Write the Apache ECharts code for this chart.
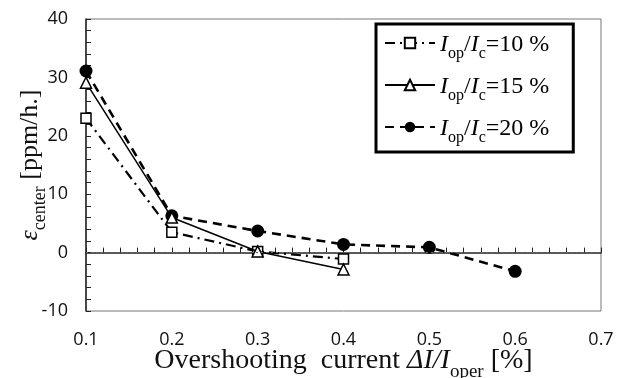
<!DOCTYPE html>
<html>
<head>
<meta charset="utf-8">
<script src="https://cdn.jsdelivr.net/npm/echarts@6/dist/echarts.min.js"></script>
<style>
  html, body { margin: 0; padding: 0; background: #fff; }
  #chart { width: 622px; height: 378px; }
</style>
</head>
<body>
<div id="chart"></div>
<script>
// Overshooting current ΔI/I_oper [%]
const overshoot10 = [0.1, 0.2, 0.3, 0.4];
const overshoot15 = [0.1, 0.2, 0.3, 0.4];
const overshoot20 = [0.1, 0.2, 0.3, 0.4, 0.5, 0.6];

// ε_center [ppm/h.] for each operating ratio
const eps10 = [23.0, 3.5, 0.2, -1.1];
const eps15 = [29.1, 6.0, 0.2, -2.9];
const eps20 = [31.1, 6.3, 3.7, 1.4, 0.9, -3.2];

const seriesNames = ['Iop/Ic=10 %', 'Iop/Ic=15 %', 'Iop/Ic=20 %'];
const legendPercents = ['10', '15', '20'];

const pairs = (xs, ys) => xs.map((x, i) => [x, ys[i]]);

const serif = '"Liberation Serif", "DejaVu Serif", serif';
const sans = '"Open Sans", "DejaVu Sans", sans-serif';

const chart = echarts.init(document.getElementById('chart'));

chart.setOption({
  animation: false,
  backgroundColor: '#fff',
  grid: {
    left: 86, right: 21, top: 19, bottom: 67,
    outerBoundsMode: 'none',
    containLabel: false,
    show: true, borderColor: '#777', borderWidth: 1
  },
  legend: {
    orient: 'vertical',
    left: 376, top: 24,
    padding: [9, 24, 6, 8],
    itemGap: 13,
    itemWidth: 50,
    itemHeight: 13,
    borderColor: '#000',
    borderWidth: 3,
    backgroundColor: '#fff',
    data: seriesNames,
    formatter: name => {
      const pct = legendPercents[seriesNames.indexOf(name)];
      return '{i|I}{s|op}{t|/}{i|I}{s|c}{t|=' + pct + ' %}';
    },
    textStyle: {
      fontFamily: serif, fontSize: 24, color: '#000',
      rich: {
        i: { fontFamily: serif, fontSize: 24, fontStyle: 'italic', color: '#000', lineHeight: 28, verticalAlign: 'bottom' },
        t: { fontFamily: serif, fontSize: 24, color: '#000', lineHeight: 28, verticalAlign: 'bottom' },
        s: { fontFamily: serif, fontSize: 16, color: '#000', lineHeight: 28, verticalAlign: 'bottom', padding: [0, 0, -5, 0] }
      }
    }
  },
  xAxis: {
    type: 'value',
    min: 0.1, max: 0.7, interval: 0.1,
    axisLine: { lineStyle: { color: '#222', width: 1.5 } },
    axisTick: { inside: true, length: 5, lineStyle: { color: '#222' } },
    minorTick: { show: true, splitNumber: 5, length: 5, lineStyle: { color: '#222' } },
    splitLine: { show: false },
    axisLabel: {
      formatter: v => v.toFixed(1),
      fontFamily: sans, fontSize: 18, color: '#111', margin: 20
    },
    name: '{n|Overshooting  current }{i|ΔI/I}{s|oper}{n| [%]}',
    nameLocation: 'middle',
    nameMoveOverlap: false,
    nameGap: 33,
    nameTextStyle: {
      rich: {
        n: { fontFamily: serif, fontSize: 28, color: '#111', lineHeight: 31, verticalAlign: 'bottom' },
        i: { fontFamily: serif, fontSize: 28, fontStyle: 'italic', color: '#111', lineHeight: 31, verticalAlign: 'bottom' },
        s: { fontFamily: serif, fontSize: 19, color: '#111', lineHeight: 31, verticalAlign: 'bottom', padding: [0, 0, -7, 0] }
      }
    }
  },
  yAxis: {
    type: 'value',
    min: -10, max: 40, interval: 10,
    axisLine: { show: true, lineStyle: { color: '#222', width: 1.5 } },
    axisTick: { show: true, inside: true, length: 5, lineStyle: { color: '#222' } },
    minorTick: { show: true, splitNumber: 5, length: 5, lineStyle: { color: '#222' } },
    splitLine: { show: false },
    axisLabel: { fontFamily: sans, fontSize: 18, color: '#111', margin: 18 },
    name: '{e|ε}{s|center}{n| [ppm/h.]}',
    nameLocation: 'middle',
    nameMoveOverlap: false,
    nameRotate: 90,
    nameGap: 43,
    nameTextStyle: {
      rich: {
        n: { fontFamily: serif, fontSize: 26, color: '#111', lineHeight: 30, verticalAlign: 'bottom' },
        e: { fontFamily: serif, fontSize: 26, fontStyle: 'italic', color: '#111', lineHeight: 30, verticalAlign: 'bottom' },
        s: { fontFamily: serif, fontSize: 18, color: '#111', lineHeight: 30, verticalAlign: 'bottom', padding: [0, 0, -6, 0] }
      }
    }
  },
  series: [
    {
      name: seriesNames[0],
      type: 'line',
      data: pairs(overshoot10, eps10),
      symbol: 'rect', symbolSize: 10,
      itemStyle: { color: '#fff', borderColor: '#000', borderWidth: 1.5 },
      lineStyle: { color: '#000', width: 2.2, type: [10, 5, 2, 5] },
      z: 3,
      markLine: {
        silent: true, symbol: 'none', label: { show: false },
        lineStyle: { color: '#666', type: [2, 3], width: 1 },
        emphasis: { disabled: true },
        data: [{ yAxis: 0 }]
      }
    },
    {
      name: seriesNames[1],
      type: 'line',
      data: pairs(overshoot15, eps15),
      symbol: 'triangle', symbolSize: 11,
      itemStyle: { color: '#fff', borderColor: '#000', borderWidth: 1.5 },
      lineStyle: { color: '#000', width: 1.5, type: 'solid' },
      z: 4
    },
    {
      name: seriesNames[2],
      type: 'line',
      data: pairs(overshoot20, eps20),
      symbol: 'circle', symbolSize: 13,
      itemStyle: { color: '#000', borderColor: '#000', borderWidth: 0 },
      lineStyle: { color: '#000', width: 2.6, type: [9, 6] },
      z: 2
    }
  ]
});
</script>
</body>
</html>
